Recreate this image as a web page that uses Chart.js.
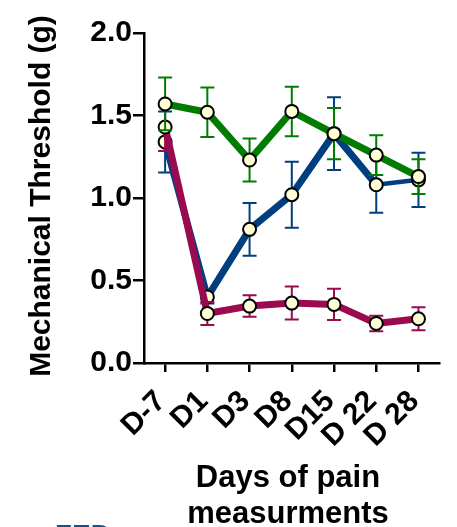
<!DOCTYPE html>
<html>
<head>
<meta charset="utf-8">
<script src="https://cdn.jsdelivr.net/npm/chart.js@4/dist/chart.umd.min.js"></script>
<style>
  html, body { margin: 0; padding: 0; background: #fff; }
  #wrap { position: relative; width: 457px; height: 527px; }
</style>
</head>
<body>
<div id="wrap"><canvas id="myChart" width="457" height="527"></canvas></div>
<script>
const days = ["D-7", "D1", "D3", "D8", "D15", "D 22", "D 28"];
const yTicks = [0, 0.5, 1.0, 1.5, 2.0];

const greenMean = [1.57, 1.52, 1.23, 1.525, 1.39, 1.26, 1.13];
const greenSem = [0.16, 0.15, 0.13, 0.15, 0.155, 0.12, 0.105];

const blueMean = [1.34, 0.40, 0.81, 1.02, 1.39, 1.08, 1.11];
const blueSem = [0.185, 0.04, 0.16, 0.2, 0.22, 0.17, 0.165];

const redMean = [1.43, 0.30, 0.345, 0.363, 0.355, 0.24, 0.268];
const redSem = [0.145, 0.07, 0.065, 0.10, 0.095, 0.047, 0.07];

const FONT = "'Liberation Sans', Arial, Helvetica, sans-serif";

// error bars drawn just before each dataset's line and points
const errorBars = {
  id: "errorBars",
  beforeDatasetDraw(chart, args) {
    const ds = chart.data.datasets[args.index];
    if (!ds.sem) return;
    const y = chart.scales.y;
    const ctx = chart.ctx;
    ctx.save();
    ctx.strokeStyle = ds.borderColor;
    ctx.lineWidth = 2;
    args.meta.data.forEach((pt, i) => {
      const top = y.getPixelForValue(ds.data[i] + ds.sem[i]);
      const bot = y.getPixelForValue(ds.data[i] - ds.sem[i]);
      ctx.beginPath();
      ctx.moveTo(pt.x, top);
      ctx.lineTo(pt.x, bot);
      ctx.moveTo(pt.x - 7, top);
      ctx.lineTo(pt.x + 7, top);
      ctx.moveTo(pt.x - 7, bot);
      ctx.lineTo(pt.x + 7, bot);
      ctx.stroke();
    });
    ctx.restore();
  },
};

const titles = {
  id: "titles",
  afterDraw(chart) {
    const ctx = chart.ctx;
    const area = chart.chartArea;
    ctx.save();
    ctx.fillStyle = "#000";
    ctx.font = "bold 30px " + FONT;
    ctx.textAlign = "center";
    ctx.textBaseline = "middle";
    ctx.translate(42, (area.top + area.bottom) / 2 - 2);
    ctx.rotate(-Math.PI / 2);
    ctx.fillText("Mechanical Threshold (g)", 0, 0);
    ctx.restore();

    ctx.save();
    ctx.fillStyle = "#000";
    ctx.font = "bold 31px " + FONT;
    ctx.textAlign = "center";
    ctx.textBaseline = "alphabetic";
    ctx.fillText("Days of pain", 288, 487);
    ctx.fillText("measurments", 288, 523);
    ctx.fillStyle = "#14508a";
    ctx.textAlign = "left";
    ctx.textBaseline = "top";
    ctx.font = "bold 28px " + FONT;
    ctx.fillText("ZED", 55, 522);
    ctx.restore();
  },
};

const common = {
  borderWidth: 7,
  pointRadius: 6.5,
  pointHoverRadius: 6.5,
  pointBorderWidth: 2,
  pointBackgroundColor: "#ffffd6",
  pointBorderColor: "#000",
  fill: false,
  tension: 0,
  clip: false,
};

const dataChart = {
  labels: days,
  datasets: [
    {
      ...common,
      label: "Green",
      data: greenMean,
      sem: greenSem,
      borderColor: "#007c00",
      order: 0,
    },
    {
      ...common,
      label: "Magenta",
      data: redMean,
      sem: redSem,
      borderColor: "#990a4e",
      order: 1,
    },
    {
      ...common,
      label: "Blue",
      data: blueMean,
      sem: blueSem,
      borderColor: "#003f7f",
      order: 2,
      segment: {
        borderWidth: (c) => (c.p0DataIndex === 5 ? 4.5 : 7),
      },
    },
  ],
};

const config = {
  type: "line",
  data: dataChart,
  options: {
    responsive: false,
    animation: false,
    layout: { padding: { left: 0, top: 33, right: 15, bottom: 0 } },
    plugins: { legend: { display: false }, tooltip: { enabled: false } },
    scales: {
      x: {
        offset: true,
        afterFit: (s) => { s.height = 164; },
        grid: { drawOnChartArea: false, drawTicks: true, tickLength: 9, color: "#000", lineWidth: 2.5 },
        border: { display: true, color: "#000", width: 2.5 },
        ticks: {
          color: "#000",
          font: { family: FONT, size: 30, weight: "bold" },
          maxRotation: 45,
          minRotation: 45,
          padding: 12,
          labelOffset: -4,
          autoSkip: false,
        },
      },
      y: {
        min: 0,
        max: 2,
        afterFit: (s) => { s.width = 144; },
        afterBuildTicks: (s) => { s.ticks = yTicks.map((v) => ({ value: v })); },
        grid: { drawOnChartArea: false, drawTicks: true, tickLength: 11, color: "#000", lineWidth: 2.5 },
        border: { display: true, color: "#000", width: 2.5 },
        ticks: {
          color: "#000",
          font: { family: FONT, size: 30, weight: "bold" },
          padding: 1,
          callback: (v) => v.toFixed(1),
        },
      },
    },
  },
  plugins: [errorBars, titles],
};

new Chart(document.getElementById("myChart"), config);
</script>
</body>
</html>
